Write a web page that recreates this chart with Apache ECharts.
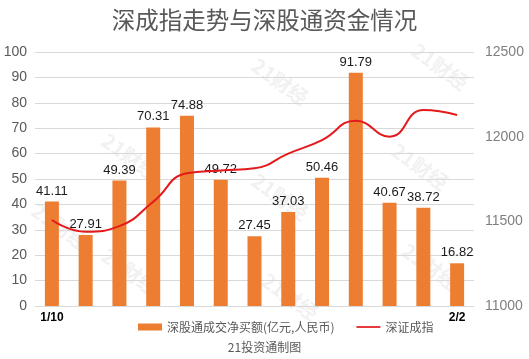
<!DOCTYPE html>
<html><head><meta charset="utf-8">
<script src="https://cdn.jsdelivr.net/npm/echarts@6/dist/echarts.min.js"></script>
<style>html,body{margin:0;padding:0;background:#fff}#c{width:529px;height:359px}</style>
</head><body><div id="c"></div>
<script>
var categories = ['1/10','1/11','1/12','1/13','1/16','1/17','1/18','1/19','1/20','1/30','1/31','2/1','2/2'];
var netBuy = [41.11,27.91,49.39,70.31,74.88,49.72,27.45,37.03,50.46,91.79,40.67,38.72,16.82];
var szIndex = [11508,11439,11472,11616,11784,11800,11813,11900,11980,12094,12000,12157,12128];
var leftTicks = {min:0,max:100,interval:10};
var rightTicks = {min:11000,max:12500,interval:500};
var font = '"Microsoft YaHei","Noto Sans CJK SC",sans-serif';
var wm = [[110,130],[260,55],[420,40],[110,245],[260,170],[400,140],[270,270],[410,240],[40,200]];
var chart = echarts.init(document.getElementById('c'));
chart.setOption({
  animation:false,
  title:{text:'深成指走势与深股通资金情况',left:'center',top:3,textStyle:{fontSize:23.5,fontWeight:'normal',color:'#595959',fontFamily:font}},
  graphic: [{type:'text',left:'center',bottom:6,style:{text:'21投资通制图',font:'12px '+font,fill:'#595959'}}].concat(
    wm.map(function(p){return {type:'text',x:p[0],y:p[1],rotation:-0.62,silent:true,z:-1,style:{text:'21财经',font:'bold 20px '+font,fill:'rgba(200,200,200,0.25)'}};})),
  grid:{left:35,right:55,top:52,bottom:53},
  legend:{left:133,bottom:21,itemGap:22,itemWidth:24,itemHeight:7,textStyle:{fontSize:12,color:'#595959',fontFamily:font},
    data:[{name:'深股通成交净买额(亿元,人民币)',icon:'rect'},{name:'深证成指',icon:'path://M0,0H28V2H0Z'}]},
  xAxis:{type:'category',data:categories,axisTick:{show:false},axisLine:{lineStyle:{color:'#d9d9d9'}},
    axisLabel:{interval:0,margin:6,fontWeight:'bold',color:'#000',fontSize:12,fontFamily:'Arial,sans-serif',
      formatter:function(v,i){return (i===0||i===categories.length-1)?v:'';}}},
  yAxis:[
    {type:'value',min:leftTicks.min,max:leftTicks.max,interval:leftTicks.interval,axisLine:{show:false},axisTick:{show:false},
      axisLabel:{color:'#595959',fontSize:14,margin:8,fontFamily:'Arial,sans-serif'},splitLine:{lineStyle:{color:'#d9d9d9'}}},
    {type:'value',min:rightTicks.min,max:rightTicks.max,interval:rightTicks.interval,axisLine:{show:false},axisTick:{show:false},
      axisLabel:{color:'#7f7f7f',fontSize:14,margin:11,fontFamily:'Arial,sans-serif',formatter:function(v){return String(v);}},splitLine:{show:false}}
  ],
  series:[
    {name:'深股通成交净买额(亿元,人民币)',type:'bar',data:netBuy,barWidth:14,itemStyle:{color:'#ED7D31'},
      label:{show:true,position:'top',distance:4,color:'#1a1a1a',fontSize:13,fontFamily:'Arial,sans-serif'}},
    {name:'深证成指',type:'line',yAxisIndex:1,data:szIndex,smooth:0.5,showSymbol:false,symbol:'none',
      lineStyle:{color:'#E3191B',width:2},itemStyle:{color:'#E3191B'}}
  ]
});
</script></body></html>
